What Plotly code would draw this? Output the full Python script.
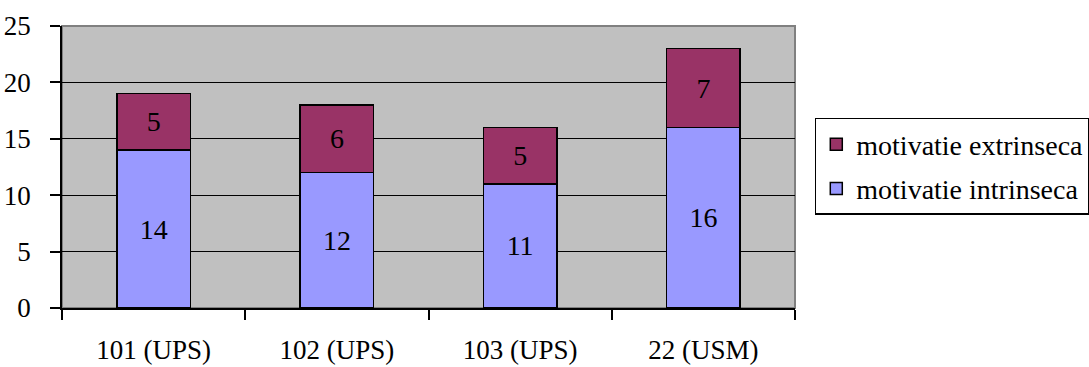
import plotly.graph_objects as go

categories = ["101 (UPS)", "102 (UPS)", "103 (UPS)", "22 (USM)"]
intrinseca = [14, 12, 11, 16]
extrinseca = [5, 6, 5, 7]
y_ticks = [0, 5, 10, 15, 20, 25]

FONT = "Liberation Serif, Times New Roman, serif"

fig = go.Figure()
fig.add_trace(go.Bar(
    x=categories, y=intrinseca, name="motivatie intrinseca",
    legendgroup="a", legendrank=2,
    marker=dict(color="#9999FF", line=dict(color="black", width=1.5)),
    text=intrinseca, textposition="inside", insidetextanchor="middle",
    textangle=0, textfont=dict(family=FONT, size=28, color="black"),
    width=0.4,
))
fig.add_trace(go.Bar(
    x=categories, y=extrinseca, name="motivatie extrinseca",
    legendgroup="b", legendrank=1,
    marker=dict(color="#993366", line=dict(color="black", width=1.5)),
    text=extrinseca, textposition="inside", insidetextanchor="middle",
    textangle=0, textfont=dict(family=FONT, size=28, color="black"),
    width=0.4,
))

fig.update_layout(
    barmode="stack",
    width=1089, height=367,
    margin=dict(l=62, r=294, t=26, b=59, autoexpand=False),
    paper_bgcolor="white",
    plot_bgcolor="#C0C0C0",
    font=dict(family=FONT, size=27, color="black"),
    uniformtext=dict(mode=False),
    legend=dict(
        x=1.027, xanchor="left", y=0.674, yanchor="top",
        bordercolor="black", borderwidth=1.5,
        font=dict(family=FONT, size=28, color="black"),
        traceorder="grouped", tracegroupgap=5,
        bgcolor="white",
    ),
    showlegend=True,
)
fig.update_yaxes(
    range=[0, 25], tickvals=y_ticks, ticks="outside", ticklen=10,
    tickcolor="black", tickwidth=1.5,
    showgrid=True, gridcolor="black", gridwidth=1,
    showline=True, linecolor="black", linewidth=1.5,
    zeroline=False, ticklabelstandoff=14, fixedrange=True,
)
fig.update_xaxes(
    ticks="outside", tickson="boundaries", ticklen=10,
    tickcolor="black", tickwidth=1.5,
    showline=True, linecolor="black", linewidth=1.5,
    showgrid=False, ticklabelstandoff=17, fixedrange=True,
)
fig.add_shape(type="rect", xref="paper", yref="paper", x0=0, x1=1, y0=0, y1=1,
              line=dict(color="#808080", width=2), layer="below")

fig.write_html("out.html")
